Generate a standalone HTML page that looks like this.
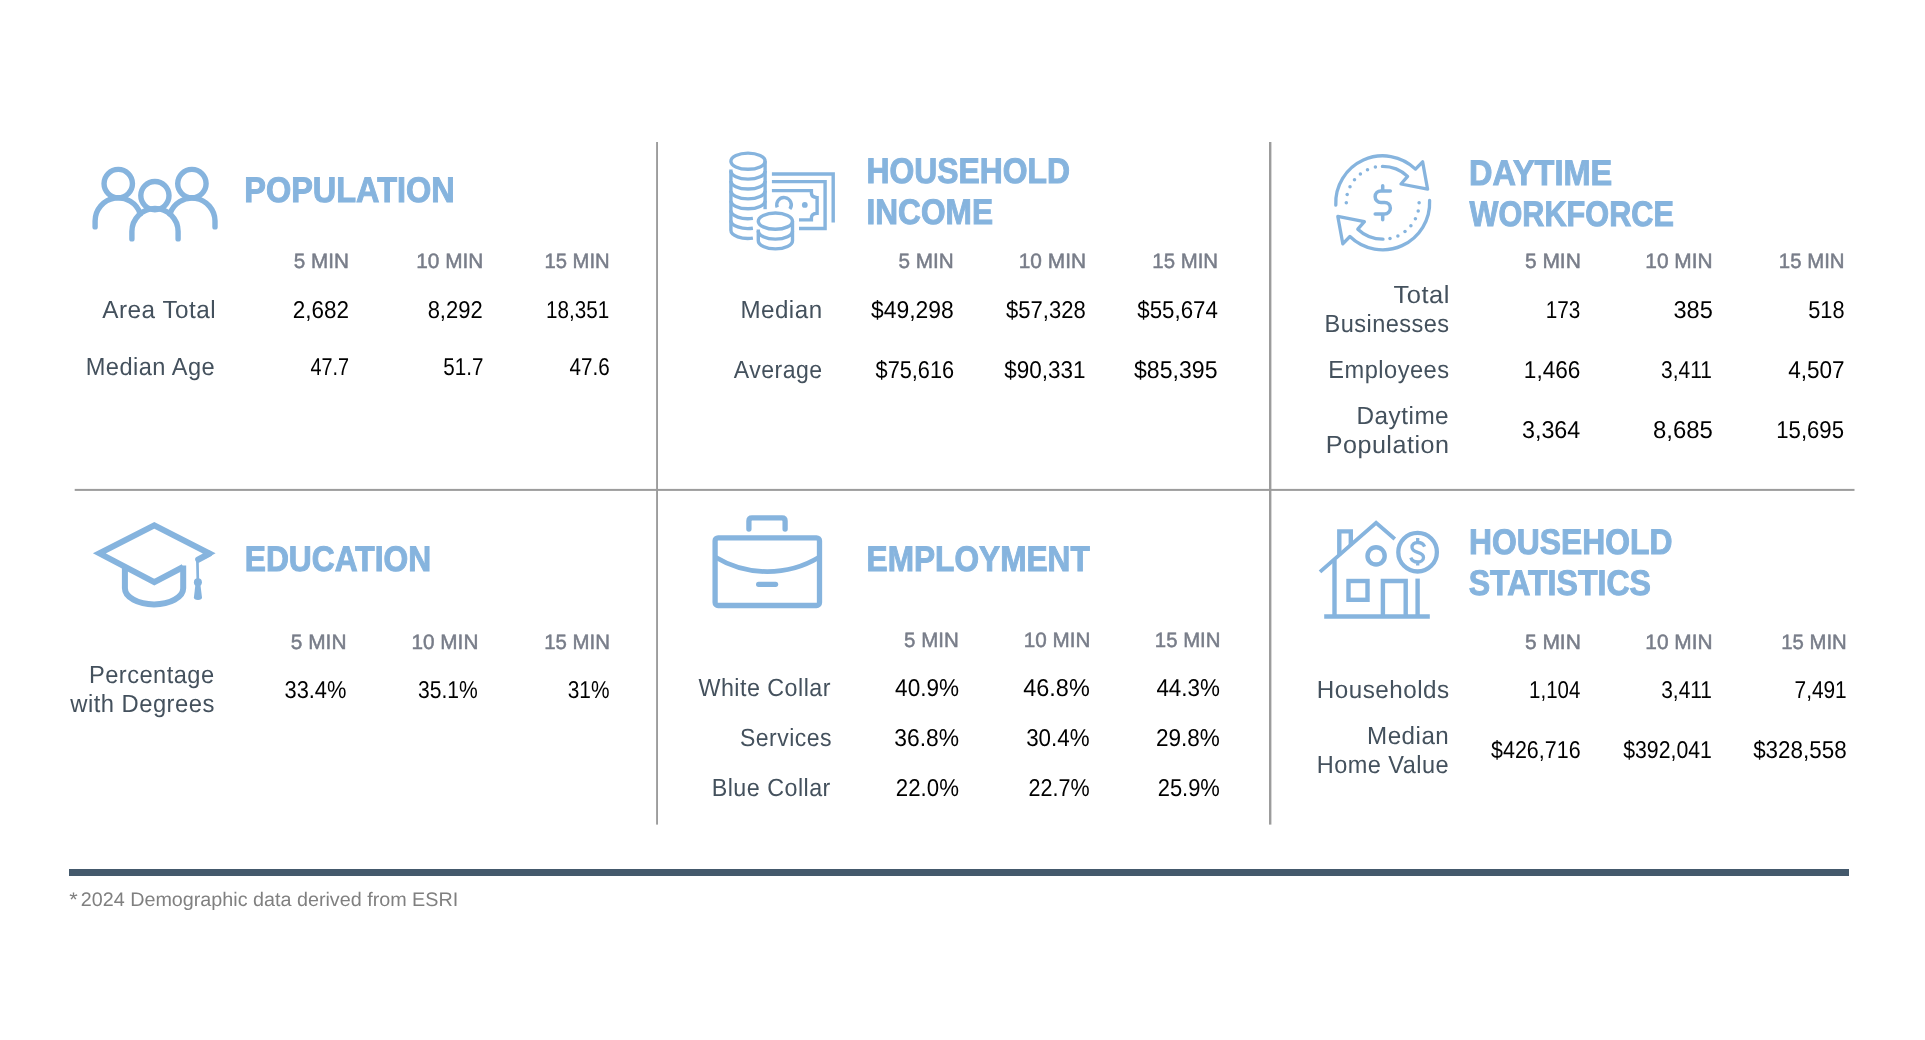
<!DOCTYPE html>
<html lang="en"><head><meta charset="utf-8"><title>Demographics</title>
<style>
html,body{margin:0;padding:0;background:#fff;}
body{width:1925px;height:1040px;position:relative;overflow:hidden;font-family:"Liberation Sans",sans-serif;text-rendering:geometricPrecision;}
main{position:absolute;left:0;top:0;width:1925px;height:1040px;will-change:transform;}
section,h2,p,footer{margin:0;padding:0;font-size:0;line-height:0;}
.t{position:absolute;display:block;white-space:nowrap;line-height:1;transform-origin:0 0;margin:0;padding:0;}
.bar{position:absolute;background:#44596c;}
.gfx{position:absolute;left:0;top:0;}
.T{font-size:35.6px;font-weight:700;color:#86b4de;-webkit-text-stroke:1px #86b4de;}
.H{font-size:20.9px;font-weight:400;color:#787d89;-webkit-text-stroke:0.5px #787d89;}
.L{font-size:24.85px;font-weight:400;color:#44515d;letter-spacing:0.5px;}
.D{font-size:24.35px;font-weight:400;color:#000000;}
.F{font-size:19.6px;font-weight:400;color:#808080;}
</style></head>
<body>
<main>
<div class="bar" style="left:69px;top:869px;width:1780px;height:7px"></div>
<svg class="gfx" width="1925" height="1040" viewBox="0 0 1925 1040" fill="none" stroke="#86b4de" stroke-linecap="round" stroke-linejoin="round">
<g id="rules" stroke="none" fill="#9c9c9c"><rect x="656.1" y="142" width="1.9" height="682.6"/><rect x="1269" y="142" width="2.4" height="682.6"/><rect x="74.7" y="488.9" width="1779.8" height="2"/></g>
<g id="ic-people" stroke-width="5.4">
<circle cx="118.25" cy="183.6" r="14.2"/>
<circle cx="154.9" cy="195.6" r="14.1"/>
<circle cx="191.9" cy="183.6" r="14.2"/>
<path d="M95.1 226.9V221A23.15 23.15 0 0 1 140.25 213.8"/>
<path d="M215 226.9V221A23.15 23.15 0 0 0 169.9 213.9"/>
<path d="M131.9 238.9V231.6A23.1 23.1 0 0 1 178.1 231.6V238.9"/>
</g>
<g id="ic-coins" stroke-width="3.4" stroke-linecap="butt" stroke-linejoin="miter">
<ellipse cx="748" cy="161.2" rx="17.1" ry="8.1"/>
<path d="M730.9 171.08A17.1 8.1 0 0 0 765.1 171.08"/>
<path d="M730.9 180.96A17.1 8.1 0 0 0 765.1 180.96"/>
<path d="M730.9 190.84A17.1 8.1 0 0 0 765.1 190.84"/>
<path d="M730.9 200.72A17.1 8.1 0 0 0 765.1 200.72"/>
<path d="M730.9 210.60A17.1 8.1 0 0 0 752.9 218.36"/>
<path d="M730.9 220.48A17.1 8.1 0 0 0 752.9 228.24"/>
<path d="M730.9 169.5V230.36A17.1 8.1 0 0 0 752.9 238.12"/>
<path d="M765.1 161.2V209.2"/>
<ellipse cx="775.4" cy="221.15" rx="17.1" ry="8.1"/>
<path d="M758.3 229.4V240.8A17.1 8.1 0 0 0 792.5 240.8V221.15"/>
<path d="M758.3 231A17.1 8.1 0 0 0 792.5 231"/>
<path d="M771.9 174H833.2V222.5"/>
<path d="M771.9 181.6H825.1V228.5H799"/>
<path d="M771.9 190.6H811.4V193.2Q811.6 197.4 817.1 197.6V213.3Q811.6 213.6 811.4 217.6V219.9H799"/>
<path d="M777.24 207.41A7.25 7.25 0 1 1 789.87 209.05"/>
<circle cx="804.8" cy="204.9" r="2.9" fill="#86b4de" stroke="none"/>
</g>
<g id="ic-cycle" stroke-width="3.3">
<g><path d="M1335.8 205.1A47 47 0 0 1 1415.5 169.1L1422.6 161.8L1427.6 189.2L1401 184L1407.6 176.4A36.4 36.4 0 0 0 1382.4 166.4"/><circle cx="1375.4" cy="167.1" r="1.75" fill="#86b4de" stroke="none"/><circle cx="1367.5" cy="169.7" r="1.75" fill="#86b4de" stroke="none"/><circle cx="1360.4" cy="174.0" r="1.75" fill="#86b4de" stroke="none"/><circle cx="1354.5" cy="179.8" r="1.75" fill="#86b4de" stroke="none"/><circle cx="1350.0" cy="186.8" r="1.75" fill="#86b4de" stroke="none"/><circle cx="1347.2" cy="194.6" r="1.75" fill="#86b4de" stroke="none"/><circle cx="1346.3" cy="202.8" r="1.75" fill="#86b4de" stroke="none"/></g>
<g transform="rotate(180 1382.7 202.8)"><path d="M1335.8 205.1A47 47 0 0 1 1415.5 169.1L1422.6 161.8L1427.6 189.2L1401 184L1407.6 176.4A36.4 36.4 0 0 0 1382.4 166.4"/><circle cx="1375.4" cy="167.1" r="1.75" fill="#86b4de" stroke="none"/><circle cx="1367.5" cy="169.7" r="1.75" fill="#86b4de" stroke="none"/><circle cx="1360.4" cy="174.0" r="1.75" fill="#86b4de" stroke="none"/><circle cx="1354.5" cy="179.8" r="1.75" fill="#86b4de" stroke="none"/><circle cx="1350.0" cy="186.8" r="1.75" fill="#86b4de" stroke="none"/><circle cx="1347.2" cy="194.6" r="1.75" fill="#86b4de" stroke="none"/><circle cx="1346.3" cy="202.8" r="1.75" fill="#86b4de" stroke="none"/></g>
<path d="M1390.3 190.9H1380.9A5.75 5.75 0 0 0 1380.9 202.4H1384.6A5.75 5.75 0 0 1 1384.6 213.9H1375.2M1382.7 185.7V190.9M1382.7 213.9V219.8" stroke-width="3.5"/>
</g>
<g id="ic-grad" stroke-width="6">
<path d="M198.4 559.5L209.1 553.8" stroke-linecap="round" stroke-width="6.4"/>
<path d="M204 556.1L209.1 553.4L154.3 525.3L99.4 553.4L154.3 582.2L183.2 567" stroke-linejoin="miter" stroke-linecap="butt"/>
<path d="M183.2 565.6V588.3A29.15 16.1 0 0 1 124.9 588.3V566.8" stroke-linecap="butt"/>
<path d="M197.4 560L197.8 579" stroke-width="2.7"/>
<circle cx="197.9" cy="582.3" r="4" fill="#86b4de" stroke="none"/>
<path d="M195.6 583L200.2 583L202 597.5Q202 599.9 198 599.9Q193.9 599.9 193.9 597.5Z" fill="#86b4de" stroke="none"/>
</g>
<g id="ic-brief" stroke-width="5.3">
<rect x="715.1" y="537.8" width="104.4" height="67.7" rx="3"/>
<path d="M748.9 529V521Q748.9 517.9 752 517.9H782Q785.1 517.9 785.1 521V529"/>
<path d="M715.1 557A100.6 100.6 0 0 0 819.5 557" stroke-width="4.8" stroke-linecap="butt"/>
<path d="M758.6 584.3H775.6" stroke-width="5.2"/>
</g>
<g id="ic-house" stroke-width="4.4" stroke-linecap="butt" stroke-linejoin="miter">
<path d="M1324.2 616.5H1429.8" stroke-width="4.7"/>
<path d="M1334.5 560V616"/>
<path d="M1417.6 578.6V616"/>
<path d="M1320 571.9L1376.1 522.8L1394.8 538.9" stroke-width="3.9"/>
<path d="M1339.3 555.2V531.4H1350.8V545.3"/>
<circle cx="1376.1" cy="555.9" r="8.6"/>
<circle cx="1417.6" cy="552.2" r="19.3" stroke-width="4.3"/>
<path d="M1424.6 546.6C1423.5 543.8 1420.8 542.5 1417.6 542.5C1414.2 542.5 1412 544.4 1412 547.2C1412 550.5 1414.8 551.4 1417.7 552.3C1420.8 553.2 1423.5 554.2 1423.5 557.4C1423.5 560.3 1421 562 1417.6 562C1414.4 562 1411.8 560.4 1410.8 557.6M1417.7 538.1V542.5M1417.7 562V565.5" stroke-width="3.3"/>
<rect x="1348.5" y="581" width="19" height="18.8"/>
<path d="M1382.9 616V581H1405.7V616"/>
</g>
</svg>

<section aria-label="Population">
<h2><span class="t T" style="left:244px;top:173px;transform:translateX(0.26px) scaleX(0.9126)">POPULATION</span></h2>
<span class="t H" style="left:293px;top:252px;transform:translateX(0.70px) scaleX(0.9895)">5 MIN</span>
<span class="t H" style="left:416px;top:252px;transform:translateX(0.20px) scaleX(0.9969)">10 MIN</span>
<span class="t H" style="left:544px;top:252px;transform:translateX(0.43px) scaleX(0.9678)">15 MIN</span>
<span class="t L" style="left:102px;top:299px;transform:translateX(0.28px) scaleX(0.9786)">Area Total</span>
<span class="t D" style="left:292px;top:299px;transform:translateX(0.71px) scaleX(0.9232)">2,682</span>
<span class="t D" style="left:427px;top:299px;transform:translateX(0.65px) scaleX(0.9020)">8,292</span>
<span class="t D" style="left:546px;top:299px;transform:translateX(0.03px) scaleX(0.8486)">18,351</span>
<span class="t L" style="left:85px;top:356px;transform:translateX(0.63px) scaleX(0.9505)">Median Age</span>
<span class="t D" style="left:310px;top:356px;transform:translateX(0.45px) scaleX(0.8148)">47.7</span>
<span class="t D" style="left:443px;top:356px;transform:translateX(0.26px) scaleX(0.8458)">51.7</span>
<span class="t D" style="left:569px;top:356px;transform:translateX(0.53px) scaleX(0.8476)">47.6</span>
</section>
<section aria-label="Household Income">
<h2><span class="t T" style="left:866px;top:154px;transform:translateX(0.44px) scaleX(0.8952)">HOUSEHOLD</span><span class="t T" style="left:866px;top:195px;transform:translateX(0.49px) scaleX(0.8888)">INCOME</span></h2>
<span class="t H" style="left:898px;top:252px;transform:translateX(0.55px) scaleX(0.9900)">5 MIN</span>
<span class="t H" style="left:1018px;top:252px;transform:translateX(0.76px) scaleX(0.9985)">10 MIN</span>
<span class="t H" style="left:1152px;top:252px;transform:translateX(0.37px) scaleX(0.9751)">15 MIN</span>
<span class="t L" style="left:740px;top:299px;transform:translateX(0.43px) scaleX(0.9721)">Median</span>
<span class="t D" style="left:871px;top:299px;transform:translateX(0.00px) scaleX(0.9409)">$49,298</span>
<span class="t D" style="left:1006px;top:299px;transform:translateX(0.06px) scaleX(0.9048)">$57,328</span>
<span class="t D" style="left:1137px;top:299px;transform:translateX(0.22px) scaleX(0.9164)">$55,674</span>
<span class="t L" style="left:733px;top:359px;transform:translateX(0.78px) scaleX(0.9281)">Average</span>
<span class="t D" style="left:875px;top:359px;transform:translateX(0.54px) scaleX(0.8931)">$75,616</span>
<span class="t D" style="left:1004px;top:359px;transform:translateX(0.16px) scaleX(0.9241)">$90,331</span>
<span class="t D" style="left:1134px;top:359px;transform:translateX(0.03px) scaleX(0.9485)">$85,395</span>
</section>
<section aria-label="Daytime Workforce">
<h2><span class="t T" style="left:1469px;top:156px;transform:translateX(0.00px) scaleX(0.9130)">DAYTIME</span><span class="t T" style="left:1469px;top:197px;transform:translateX(0.53px) scaleX(0.8617)">WORKFORCE</span></h2>
<span class="t H" style="left:1524px;top:252px;transform:translateX(0.90px) scaleX(1.0039)">5 MIN</span>
<span class="t H" style="left:1645px;top:252px;transform:translateX(0.29px) scaleX(0.9989)">10 MIN</span>
<span class="t H" style="left:1778px;top:252px;transform:translateX(0.78px) scaleX(0.9769)">15 MIN</span>
<span class="t L" style="left:1393px;top:284px;transform:translateX(0.53px) scaleX(1.0275)">Total</span>
<span class="t L" style="left:1324px;top:313px;transform:translateX(0.61px) scaleX(0.9462)">Businesses</span>
<span class="t D" style="left:1545px;top:299px;transform:translateX(0.67px) scaleX(0.8512)">173</span>
<span class="t D" style="left:1673px;top:299px;transform:translateX(0.43px) scaleX(0.9679)">385</span>
<span class="t D" style="left:1808px;top:299px;transform:translateX(0.20px) scaleX(0.8935)">518</span>
<span class="t L" style="left:1328px;top:359px;transform:translateX(0.29px) scaleX(0.9510)">Employees</span>
<span class="t D" style="left:1523px;top:359px;transform:translateX(0.84px) scaleX(0.9283)">1,466</span>
<span class="t D" style="left:1661px;top:359px;transform:translateX(0.12px) scaleX(0.8597)">3,411</span>
<span class="t D" style="left:1788px;top:359px;transform:translateX(0.22px) scaleX(0.9256)">4,507</span>
<span class="t L" style="left:1356px;top:405px;transform:translateX(0.57px) scaleX(0.9783)">Daytime</span>
<span class="t L" style="left:1325px;top:434px;transform:translateX(0.63px) scaleX(1.0119)">Population</span>
<span class="t D" style="left:1521px;top:419px;transform:translateX(0.94px) scaleX(0.9579)">3,364</span>
<span class="t D" style="left:1653px;top:419px;transform:translateX(0.04px) scaleX(0.9821)">8,685</span>
<span class="t D" style="left:1776px;top:419px;transform:translateX(0.30px) scaleX(0.9089)">15,695</span>
</section>
<section aria-label="Education">
<h2><span class="t T" style="left:244px;top:542px;transform:translateX(0.72px) scaleX(0.8924)">EDUCATION</span></h2>
<span class="t H" style="left:290px;top:633px;transform:translateX(0.85px) scaleX(0.9984)">5 MIN</span>
<span class="t H" style="left:411px;top:633px;transform:translateX(0.52px) scaleX(0.9925)">10 MIN</span>
<span class="t H" style="left:544px;top:633px;transform:translateX(0.24px) scaleX(0.9753)">15 MIN</span>
<span class="t L" style="left:89px;top:664px;transform:translateX(0.01px) scaleX(0.9507)">Percentage</span>
<span class="t L" style="left:70px;top:693px;transform:translateX(0.28px) scaleX(0.9571)">with Degrees</span>
<span class="t D" style="left:284px;top:679px;transform:translateX(0.49px) scaleX(0.8978)">33.4%</span>
<span class="t D" style="left:417px;top:679px;transform:translateX(0.97px) scaleX(0.8661)">35.1%</span>
<span class="t D" style="left:567px;top:679px;transform:translateX(0.70px) scaleX(0.8574)">31%</span>
</section>
<section aria-label="Employment">
<h2><span class="t T" style="left:866px;top:542px;transform:translateX(0.58px) scaleX(0.8890)">EMPLOYMENT</span></h2>
<span class="t H" style="left:904px;top:631px;transform:translateX(0.08px) scaleX(0.9813)">5 MIN</span>
<span class="t H" style="left:1023px;top:631px;transform:translateX(0.75px) scaleX(0.9893)">10 MIN</span>
<span class="t H" style="left:1154px;top:631px;transform:translateX(0.81px) scaleX(0.9757)">15 MIN</span>
<span class="t L" style="left:698px;top:677px;transform:translateX(0.44px) scaleX(0.9378)">White Collar</span>
<span class="t D" style="left:895px;top:677px;transform:translateX(0.11px) scaleX(0.9262)">40.9%</span>
<span class="t D" style="left:1023px;top:677px;transform:translateX(0.27px) scaleX(0.9627)">46.8%</span>
<span class="t D" style="left:1156px;top:677px;transform:translateX(0.40px) scaleX(0.9210)">44.3%</span>
<span class="t L" style="left:740px;top:727px;transform:translateX(0.07px) scaleX(0.9252)">Services</span>
<span class="t D" style="left:894px;top:727px;transform:translateX(0.22px) scaleX(0.9386)">36.8%</span>
<span class="t D" style="left:1026px;top:727px;transform:translateX(0.19px) scaleX(0.9182)">30.4%</span>
<span class="t D" style="left:1155px;top:727px;transform:translateX(0.99px) scaleX(0.9259)">29.8%</span>
<span class="t L" style="left:711px;top:777px;transform:translateX(0.70px) scaleX(0.9379)">Blue Collar</span>
<span class="t D" style="left:895px;top:777px;transform:translateX(0.85px) scaleX(0.9134)">22.0%</span>
<span class="t D" style="left:1028px;top:777px;transform:translateX(0.48px) scaleX(0.8850)">22.7%</span>
<span class="t D" style="left:1157px;top:777px;transform:translateX(0.68px) scaleX(0.9009)">25.9%</span>
</section>
<section aria-label="Household Statistics">
<h2><span class="t T" style="left:1469px;top:525px;transform:translateX(0.01px) scaleX(0.8948)">HOUSEHOLD</span><span class="t T" style="left:1468px;top:566px;transform:translateX(0.70px) scaleX(0.9009)">STATISTICS</span></h2>
<span class="t H" style="left:1524px;top:633px;transform:translateX(0.90px) scaleX(1.0039)">5 MIN</span>
<span class="t H" style="left:1645px;top:633px;transform:translateX(0.29px) scaleX(0.9989)">10 MIN</span>
<span class="t H" style="left:1781px;top:633px;transform:translateX(0.30px) scaleX(0.9727)">15 MIN</span>
<span class="t L" style="left:1316px;top:679px;transform:translateX(0.85px) scaleX(0.9747)">Households</span>
<span class="t D" style="left:1529px;top:679px;transform:translateX(0.09px) scaleX(0.8399)">1,104</span>
<span class="t D" style="left:1661px;top:679px;transform:translateX(0.22px) scaleX(0.8591)">3,411</span>
<span class="t D" style="left:1794px;top:679px;transform:translateX(0.54px) scaleX(0.8563)">7,491</span>
<span class="t L" style="left:1367px;top:725px;transform:translateX(0.08px) scaleX(0.9726)">Median</span>
<span class="t L" style="left:1316px;top:754px;transform:translateX(0.78px) scaleX(0.9461)">Home Value</span>
<span class="t D" style="left:1491px;top:739px;transform:translateX(0.06px) scaleX(0.8815)">$426,716</span>
<span class="t D" style="left:1623px;top:739px;transform:translateX(0.19px) scaleX(0.8739)">$392,041</span>
<span class="t D" style="left:1753px;top:739px;transform:translateX(0.13px) scaleX(0.9208)">$328,558</span>
</section>
<footer><p><span class="t F" style="left:69px;top:891px;transform:translateX(0.19px) scaleX(1.1098)">*</span><span class="t F" style="left:80px;top:891px;transform:translateX(0.76px) scaleX(1.0074)">2024 Demographic data derived from ESRI</span></p></footer>
</main>
</body></html>
